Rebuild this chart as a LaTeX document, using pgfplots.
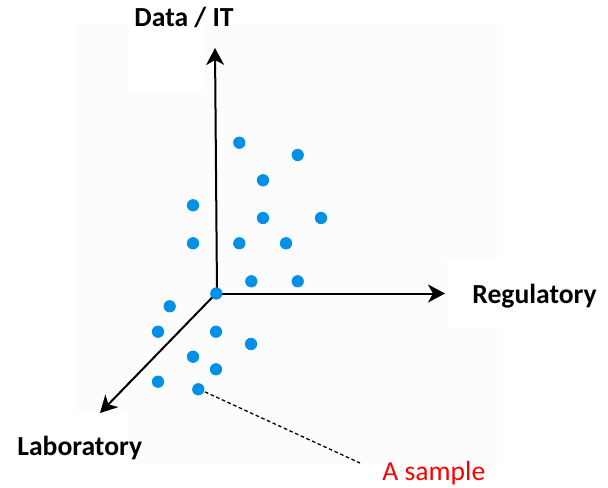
\documentclass[border=0pt]{standalone}
\usepackage{pgfplots}
\pgfplotsset{compat=1.18}
\usepackage{fontspec}
\setmainfont{Carlito}
\usetikzlibrary{arrows.meta}

\definecolor{dotblue}{RGB}{0,145,230}
\definecolor{bgpanel}{RGB}{252,252,252}

% sample positions, in picture units (1 unit = one reference pixel, y upward)
\pgfplotstableread{
x y
239.3 344.3
297.7 332.0
263.0 306.7
193.0 281.7
263.0 269.0
321.0 269.0
193.0 243.7
239.3 243.7
286.0 243.7
251.3 205.7
297.7 205.7
216.3 193.5
169.7 180.7
158.0 155.3
216.0 155.3
251.0 143.0
193.0 130.3
216.0 117.7
158.0 105.3
198.3  97.7
}\samples

\begin{document}
\begin{tikzpicture}
\begin{axis}[
  width=304pt, height=243.5pt, scale only axis,
  xmin=0, xmax=608, ymin=0, ymax=487,
  hide axis, clip=false,
]
  % keep the whole canvas in the bounding box
  \path (axis cs:0,0) rectangle (axis cs:608,487);

  % faint panel behind the chart, white round the labels
  \fill[bgpanel] (axis cs:75,22) rectangle (axis cs:497,463);
  \fill[white] (axis cs:128,395) rectangle (axis cs:205,487);
  \fill[white] (axis cs:447,159) rectangle (axis cs:497,227);
  \fill[white] (axis cs:0,0) rectangle (axis cs:128,74);

  % the three axes
  \draw[line width=1pt, -{Stealth[length=8.5pt,width=9pt,inset=2.5pt]}]
    (axis cs:217,193.5) -- (axis cs:215,439);
  \draw[line width=1pt, -{Stealth[length=8.5pt,width=9pt,inset=2.5pt]}]
    (axis cs:216,193.5) -- (axis cs:445,193.5);
  \draw[line width=1pt, -{Stealth[length=8.5pt,width=9pt,inset=2.5pt]}]
    (axis cs:216,193.5) -- (axis cs:100,74);

  % leader to the annotated sample
  \draw[line width=0.65pt, dash pattern=on 1.8pt off 1.3pt]
    (axis cs:199.3,97.7) -- (axis cs:360,24);

  \addplot[only marks, mark=*, mark size=2.85pt,
    mark options={draw=dotblue, fill=dotblue}] table {\samples};

  \node[anchor=base, inner sep=0, font=\fontsize{13.8}{16}\selectfont\bfseries]
    at (axis cs:184,460) {Data / IT};
  \node[anchor=base west, inner sep=0, font=\fontsize{13.8}{16}\selectfont\bfseries]
    at (axis cs:472,184) {Regulatory};
  \node[anchor=base west, inner sep=0, font=\fontsize{13.8}{16}\selectfont\bfseries]
    at (axis cs:17,32) {Laboratory};
  \node[anchor=base west, inner sep=0, text=red, font=\fontsize{13.8}{16}\selectfont]
    at (axis cs:382,7) {A sample};
\end{axis}
\end{tikzpicture}
\end{document}
